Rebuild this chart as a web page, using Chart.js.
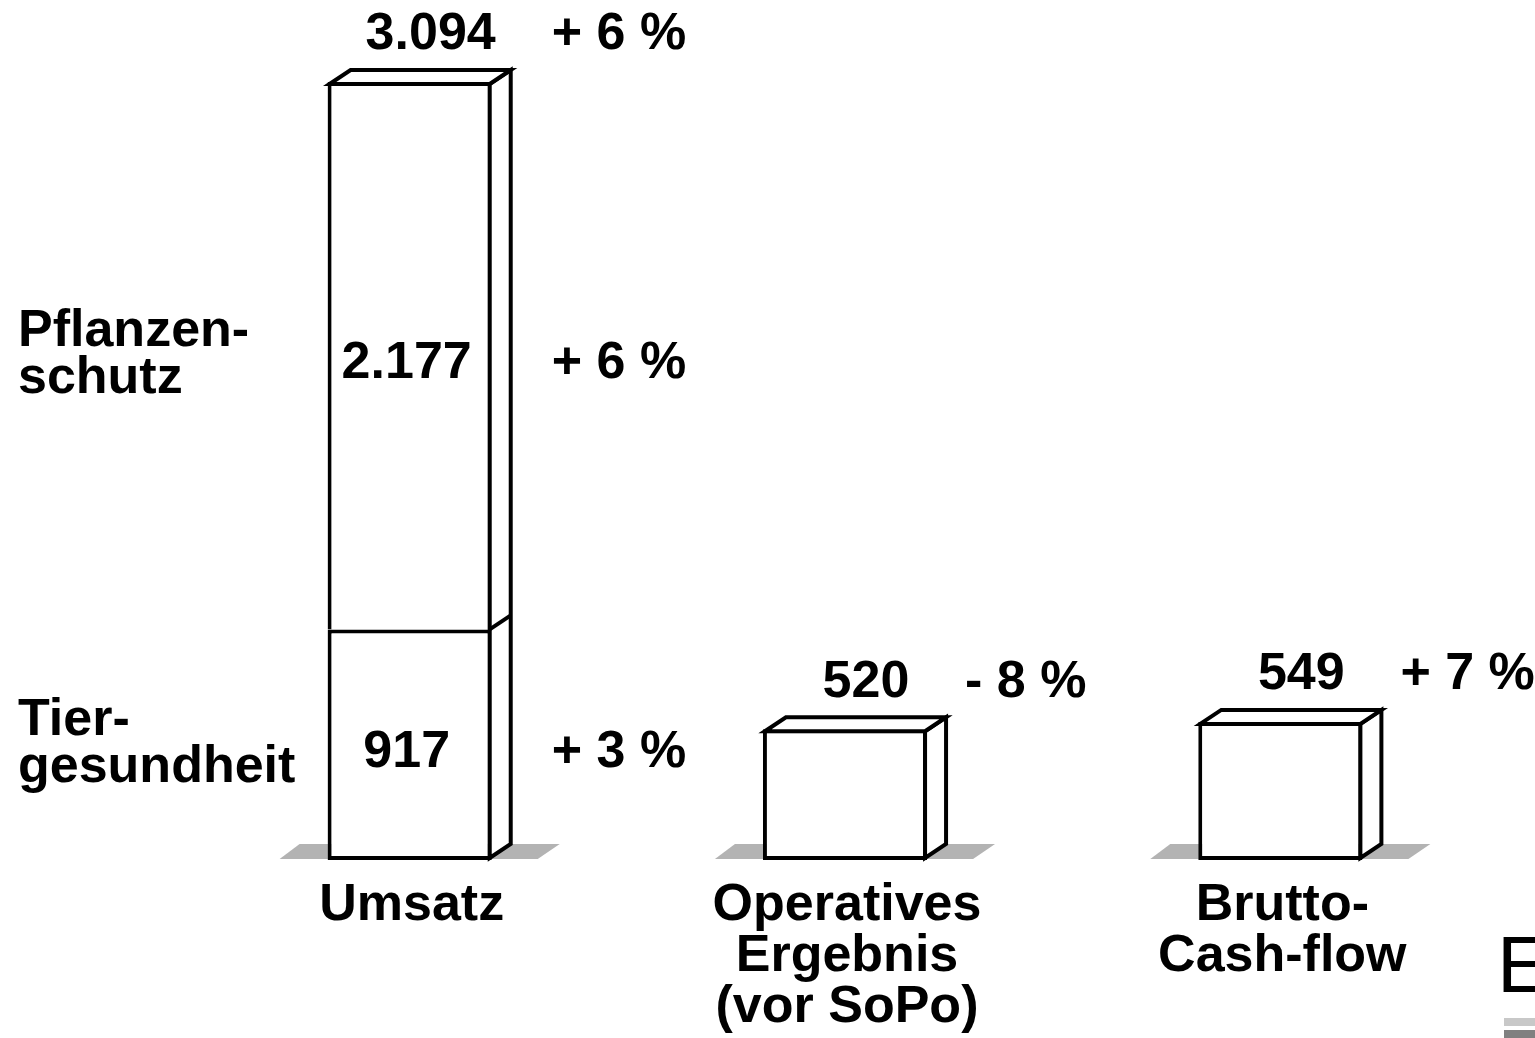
<!DOCTYPE html>
<html>
<head>
<meta charset="utf-8">
<script src="https://cdn.jsdelivr.net/npm/chart.js@4/dist/chart.umd.min.js"></script>
<style>
  html, body { margin: 0; padding: 0; background: #fff; }
  #wrap { width: 1535px; height: 1038px; position: relative; }
</style>
</head>
<body>
<div id="wrap"><canvas id="kennzahlen"></canvas></div>
<script>
// Bar labels (multi-line) below the boxes
const categories = [["Umsatz"], ["Operatives", "Ergebnis", "(vor SoPo)"], ["Brutto-", "Cash-flow"]];

// Lower segment: Tiergesundheit for Umsatz, the single value for the others
const baseValues = [917, 520, 549];
// Upper segment: Pflanzenschutz (only Umsatz is split)
const cropValues = [2177, null, null];

// Change vs. previous year
const totalChange = ["+ 6 %", "- 8 %", "+ 7 %"];
const baseChange = ["+ 3 %", null, null];
const cropChange = ["+ 6 %", null, null];

// Segment names shown left of the split bar
const baseName = ["Tier-", "gesundheit"];
const cropName = ["Pflanzen-", "schutz"];

const FONT = '"Liberation Sans", Arial, Helvetica, sans-serif';
const BOLD = "bold 52px " + FONT;
const DEPTH_X = 21;
const DEPTH_Y = 14;
const LINE = 4;
const changeGap = [60, 38, 38];

// 3094 -> "3.094"
function fmt(n) {
  return String(n).replace(/\B(?=(\d{3})+(?!\d))/g, ".");
}

// Collect front face rect + segment boundaries for each category
function boxes(chart) {
  let out = [];
  for (let i = 0; i < categories.length; i++) {
    let els = [];
    chart.data.datasets.forEach(function (ds, d) {
      if (ds.data[i] != null) {
        els.push({ el: chart.getDatasetMeta(d).data[i], value: ds.data[i] });
      }
    });
    let first = els[0].el;
    let top = Math.min.apply(null, els.map(function (e) { return e.el.y; }));
    out.push({
      left: first.x - first.width / 2,
      right: first.x + first.width / 2,
      center: first.x,
      top: top,
      bottom: first.base,
      segments: els.map(function (e) { return { top: e.el.y, base: e.el.base, value: e.value }; }),
    });
  }
  return out;
}

function poly(ctx, pts) {
  ctx.beginPath();
  ctx.moveTo(pts[0][0], pts[0][1]);
  for (let k = 1; k < pts.length; k++) ctx.lineTo(pts[k][0], pts[k][1]);
  ctx.closePath();
}

const box3d = {
  id: "box3d",
  beforeDatasetsDraw(chart) {
    let ctx = chart.ctx;
    ctx.save();
    ctx.fillStyle = "#b3b3b3";
    boxes(chart).forEach(function (b) {
      let y = b.bottom - 1;
      poly(ctx, [[b.left - 48, y], [b.left - 28, y - 15], [b.right + 68, y - 15], [b.right + 46, y]]);
      ctx.fill();
    });
    ctx.restore();
  },
  afterDatasetsDraw(chart) {
    let ctx = chart.ctx;
    ctx.save();
    ctx.lineWidth = LINE;
    ctx.strokeStyle = "#000";
    ctx.fillStyle = "#fff";
    ctx.lineJoin = "miter";

    boxes(chart).forEach(function (b, i) {
      let L = b.left + LINE / 2, R = b.right - LINE / 2;
      let T = b.top + LINE / 2, B = b.bottom - LINE / 2;

      // side face
      ctx.fillStyle = "#fff";
      poly(ctx, [[R, T], [R + DEPTH_X, T - DEPTH_Y], [R + DEPTH_X, B - DEPTH_Y], [R, B]]);
      ctx.fill();
      ctx.stroke();
      // top face
      poly(ctx, [[L, T], [L + DEPTH_X, T - DEPTH_Y], [R + DEPTH_X, T - DEPTH_Y], [R, T]]);
      ctx.fill();
      ctx.stroke();
      // segment dividers continue on the side face
      b.segments.slice(1).forEach(function (s) {
        let y = s.base;
        ctx.beginPath();
        ctx.moveTo(R, y);
        ctx.lineTo(R + DEPTH_X, y - DEPTH_Y);
        ctx.stroke();
      });

      // texts
      ctx.fillStyle = "#000";
      ctx.font = BOLD;
      ctx.textBaseline = "middle";

      let total = b.segments.reduce(function (a, s) { return a + s.value; }, 0);
      let yTop = b.top - DEPTH_Y - 33;
      ctx.textAlign = "center";
      ctx.fillText(fmt(total), b.center + DEPTH_X, yTop);
      ctx.textAlign = "left";
      ctx.fillText(totalChange[i], b.right + changeGap[i], yTop);

      if (b.segments.length > 1) {
        let changes = [baseChange[i], cropChange[i]];
        let names = [baseName, cropName];
        b.segments.forEach(function (s, k) {
          let mid = (s.top + s.base) / 2;
          ctx.textAlign = "center";
          ctx.textBaseline = "middle";
          ctx.fillText(fmt(s.value), b.center - 3, mid + 8);
          if (changes[k]) {
            ctx.textAlign = "left";
            ctx.fillText(changes[k], b.right + changeGap[i], mid + 8);
          }
          ctx.textAlign = "left";
          ctx.textBaseline = "alphabetic";
          ctx.fillText(names[k][0], 18, mid - 10);
          ctx.fillText(names[k][1], 18, mid + 37);
        });
      }

      // category label under the box
      ctx.textAlign = "center";
      ctx.textBaseline = "alphabetic";
      categories[i].forEach(function (line, k) {
        ctx.fillText(line, b.center + 2, 920 + k * 51);
      });
    });

    // logo fragment at the lower right corner
    ctx.fillStyle = "#000";
    ctx.font = "80px " + FONT;
    ctx.textAlign = "left";
    ctx.textBaseline = "alphabetic";
    ctx.fillText("E", 1497, 992);
    ctx.fillStyle = "#c8c8c8";
    ctx.fillRect(1504, 1018, 31, 8);
    ctx.fillStyle = "#808080";
    ctx.fillRect(1504, 1030, 31, 8);
    ctx.restore();
  },
};

new Chart(document.getElementById("kennzahlen"), {
  type: "bar",
  data: {
    labels: categories,
    datasets: [
      {
        label: "Tiergesundheit",
        data: baseValues,
        backgroundColor: "#fff",
        borderColor: "#000",
        borderWidth: LINE,
        borderSkipped: false,
      },
      {
        label: "Pflanzenschutz",
        data: cropValues,
        backgroundColor: "#fff",
        borderColor: "#000",
        borderWidth: LINE,
        borderSkipped: "start",
      },
    ],
  },
  options: {
    responsive: true,
    maintainAspectRatio: false,
    animation: false,
    layout: { padding: { top: 82, bottom: 178, left: 192, right: 37 } },
    datasets: { bar: { barPercentage: 0.377, categoryPercentage: 1 } },
    scales: {
      x: { stacked: true, display: false },
      y: { stacked: true, display: false, min: 0, max: 3094 },
    },
    plugins: {
      legend: { display: false },
      tooltip: { enabled: false },
    },
  },
  plugins: [box3d],
});
</script>
</body>
</html>
